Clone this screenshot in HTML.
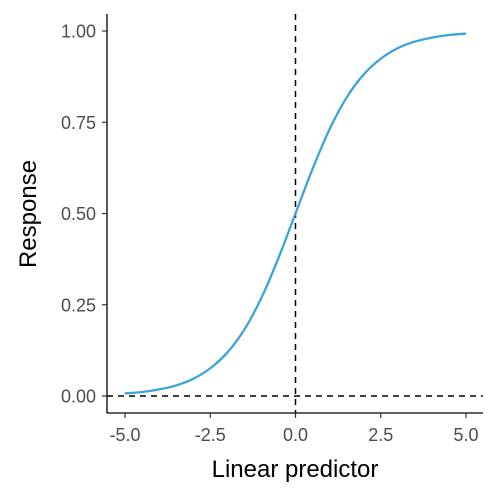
<!DOCTYPE html>
<html><head><meta charset="utf-8"><style>
html,body{margin:0;padding:0;background:#fff}
svg{display:block;font-family:"Liberation Sans",Arial,sans-serif}
</style></head><body>
<svg id="chart" width="499" height="499" viewBox="0 0 499 499" xmlns="http://www.w3.org/2000/svg"></svg>
<script>
const xValues=[-5,-4.5,-4,-3.5,-3,-2.5,-2,-1.5,-1,-0.5,0,0.5,1,1.5,2,2.5,3,3.5,4,4.5,5];
const yValues=[0.007,0.011,0.018,0.029,0.047,0.076,0.119,0.182,0.269,0.378,0.5,0.622,0.731,0.818,0.881,0.924,0.953,0.971,0.982,0.989,0.993];
const xTicks=[-5,-2.5,0,2.5,5];
const xTickLabels=["-5.0","-2.5","0.0","2.5","5.0"];
const yTicks=[0,0.25,0.5,0.75,1];
const yTickLabels=["0.00","0.25","0.50","0.75","1.00"];
const vRef=[0];
const hRef=[0];

const NS="http://www.w3.org/2000/svg";
const svg=document.getElementById('chart');
const sx=v=>125+(v+5)*(466-125)/10;
const sy=v=>396-v*(396-31);
function mk(tag,attrs,parent){const e=document.createElementNS(NS,tag);for(const k in attrs)e.setAttribute(k,attrs[k]);(parent||svg).appendChild(e);return e;}

let l=mk('line',{x1:sx(vRef[0]),x2:sx(vRef[0]),y1:14,y2:413,stroke:'#000','stroke-width':1.5,'stroke-dasharray':'6,5'});


l=mk('line',{x1:107,x2:483,y1:sy(hRef[0]),y2:sy(hRef[0]),stroke:'#000','stroke-width':1.5,'stroke-dasharray':'6,5'});



const pts=xValues.map((x,i)=>[sx(x),sy(yValues[i])]);
let d=`M${pts[0][0]},${pts[0][1]}`;
for(let i=0;i<pts.length-1;i++){
  const p0=pts[Math.max(0,i-1)],p1=pts[i],p2=pts[i+1],p3=pts[Math.min(pts.length-1,i+2)];
  const c1=[p1[0]+(p2[0]-p0[0])/6,p1[1]+(p2[1]-p0[1])/6];
  const c2=[p2[0]-(p3[0]-p1[0])/6,p2[1]-(p3[1]-p1[1])/6];
  d+=` C${c1[0]},${c1[1]} ${c2[0]},${c2[1]} ${p2[0]},${p2[1]}`;
}
const curve=mk('path',{d:d,fill:'none',stroke:'#3aa3db','stroke-width':2.3});



const ax=mk('line',{x1:107,x2:107,y1:14,y2:413.5,stroke:'#000','stroke-width':1.3});


const bx=mk('line',{x1:106.5,x2:483,y1:413,y2:413,stroke:'#000','stroke-width':1.3});



xTicks.forEach((v,i)=>{
  const t=mk('line',{x1:sx(v),x2:sx(v),y1:413,y2:418,stroke:'#333','stroke-width':1.2});
  
  
  const tx=mk('text',{x:sx(v),y:441,'text-anchor':'middle','font-size':18,fill:'#4d4d4d'});
  tx.textContent=xTickLabels[i];
  
  
});
yTicks.forEach((v,i)=>{
  const t=mk('line',{x1:102,x2:107,y1:sy(v),y2:sy(v),stroke:'#333','stroke-width':1.2});
  
  
  const tx=mk('text',{x:96,y:sy(v)+6.5,'text-anchor':'end','font-size':18,fill:'#4d4d4d'});
  tx.textContent=yTickLabels[i];
  
  
});
const xt=mk('text',{x:295,y:477,'text-anchor':'middle','font-size':24,fill:'#000'});
xt.textContent='Linear predictor';


const yt=mk('text',{x:0,y:0,'text-anchor':'middle','font-size':24,fill:'#000',transform:'translate(36,214) rotate(-90)'});
yt.textContent='Response';


</script>
</body></html>
